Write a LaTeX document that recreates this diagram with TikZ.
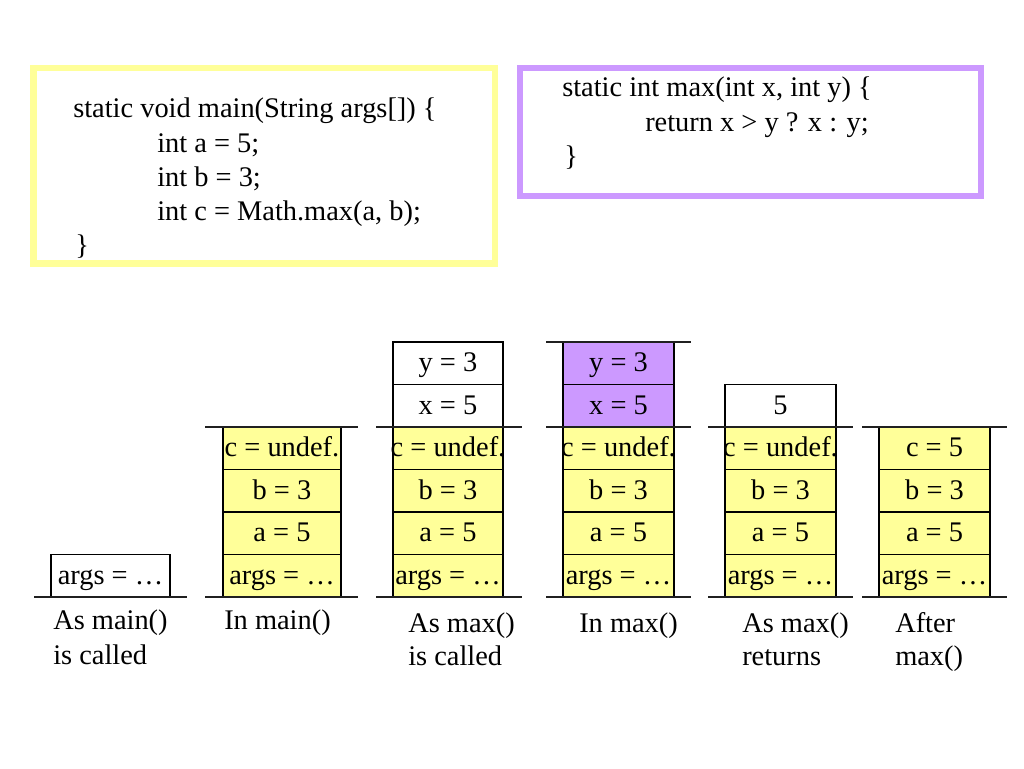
\documentclass[tikz,border=0pt]{standalone}
\usepackage{fontspec}
\setmainfont{Liberation Serif}
\definecolor{codeyellow}{HTML}{FFFF99}
\definecolor{codepurple}{HTML}{CC99FF}
\definecolor{lineclr}{HTML}{202020}
\newcommand{\wide}[1]{\makebox[0pt]{#1}}
\begin{document}
\begin{tikzpicture}[x=0.75pt,y=-0.75pt,
  font=\fontsize{21.3}{25}\selectfont,
  codebox/.style={line width=4.9pt},
  txt/.style={anchor=base west,inner sep=0pt},
  cellbox/.style={draw=black,line width=0.8pt,minimum height=31.875pt,inner sep=0pt,text height=1.25em,text depth=0pt},
  ycell/.style={cellbox,fill=codeyellow},
  pcell/.style={cellbox,fill=codepurple},
  wcell/.style={cellbox,fill=white},
  w1/.style={minimum width=89.25pt},
  w2/.style={minimum width=88.5pt},
  w3/.style={minimum width=82.5pt},
  w4/.style={minimum width=83.25pt},
  floor/.style={draw=lineclr,line width=0.9pt}]
\useasboundingbox (0,0) rectangle (1024,768);
\fill[white] (0,0) rectangle (1024,768);
% code boxes
\draw[codebox,draw=codeyellow] (33.5,68) rectangle (495,263.5);
\draw[codebox,draw=codepurple] (520,68) rectangle (981,196);
% main code
\node[txt] (m1) at (73,117) {static void main(String args[]) \{};
\node[txt] (m2) at (157,152) {int a = 5;};
\node[txt] (m3) at (157,186) {int b = 3;};
\node[txt] (m4) at (157,220) {int c = Math.max(a, b);};
\node[txt] (m5) at (75,254) {\}};
% max code
\node[txt] (x1) at (562,96) {static int max(int x, int y) \{};
\node[txt] (x2) at (645,131) {return x > y ? x : y;};
\node[txt] (x3) at (564,165) {\}};
% stack 1
\node[wcell,w1] (s1a) at (110.5,575.75) {args = …};
\coordinate (f1l) at (34,597); \coordinate (f1r) at (187,597);
\draw[floor] (f1l) -- (f1r);
\node[txt] (l1a) at (53,629) {As main()};
\node[txt] (l1b) at (53,664) {is called};
% stack 2
\node[ycell,w2] (s2a) at (282,575.75) {args = …};
\node[ycell,w2] (s2b) at (282,533.25) {a = 5};
\node[ycell,w2] (s2c) at (282,490.75) {b = 3};
\node[ycell,w2] (s2d) at (282,448.25) {\wide{c = undef.}};
\coordinate (f2l) at (205,597); \coordinate (f2r) at (358,597);
\coordinate (t2l) at (205,427); \coordinate (t2r) at (358,427);
\draw[floor] (f2l) -- (f2r);
\draw[floor] (t2l) -- (t2r);
\node[txt] (l2a) at (224,629) {In main()};
% stack 3
\node[ycell,w3] (s3a) at (448,575.75) {\wide{args = …}};
\node[ycell,w3] (s3b) at (448,533.25) {a = 5};
\node[ycell,w3] (s3c) at (448,490.75) {b = 3};
\node[ycell,w3] (s3d) at (448,448.25) {\wide{c = undef.}};
\node[wcell,w3] (s3e) at (448,405.75) {x = 5};
\node[wcell,w3] (s3f) at (448,363.25) {y = 3};
\coordinate (f3l) at (376,597); \coordinate (f3r) at (522,597);
\coordinate (t3l) at (376,427); \coordinate (t3r) at (522,427);
\draw[floor] (f3l) -- (f3r);
\draw[floor] (t3l) -- (t3r);
\node[txt] (l3a) at (408,632) {As max()};
\node[txt] (l3b) at (408,665) {is called};
% stack 4
\node[ycell,w4] (s4a) at (618.5,575.75) {\wide{args = …}};
\node[ycell,w4] (s4b) at (618.5,533.25) {a = 5};
\node[ycell,w4] (s4c) at (618.5,490.75) {b = 3};
\node[ycell,w4] (s4d) at (618.5,448.25) {\wide{c = undef.}};
\node[pcell,w4] (s4e) at (618.5,405.75) {x = 5};
\node[pcell,w4] (s4f) at (618.5,363.25) {y = 3};
\coordinate (f4l) at (546,597); \coordinate (f4r) at (691,597);
\coordinate (t4l) at (546,427); \coordinate (t4r) at (691,427);
\coordinate (u4l) at (546,342); \coordinate (u4r) at (691,342);
\draw[floor] (f4l) -- (f4r);
\draw[floor] (t4l) -- (t4r);
\draw[floor] (u4l) -- (u4r);
\node[txt] (l4a) at (579,632) {In max()};
% stack 5
\node[ycell,w4] (s5a) at (780.5,575.75) {\wide{args = …}};
\node[ycell,w4] (s5b) at (780.5,533.25) {a = 5};
\node[ycell,w4] (s5c) at (780.5,490.75) {b = 3};
\node[ycell,w4] (s5d) at (780.5,448.25) {\wide{c = undef.}};
\node[wcell,w4] (s5e) at (780.5,405.75) {5};
\coordinate (f5l) at (708,597); \coordinate (f5r) at (853,597);
\coordinate (t5l) at (708,427); \coordinate (t5r) at (853,427);
\draw[floor] (f5l) -- (f5r);
\draw[floor] (t5l) -- (t5r);
\node[txt] (l5a) at (742,632) {As max()};
\node[txt] (l5b) at (742,665) {returns};
% stack 6
\node[ycell,w4] (s6a) at (934.5,575.75) {\wide{args = …}};
\node[ycell,w4] (s6b) at (934.5,533.25) {a = 5};
\node[ycell,w4] (s6c) at (934.5,490.75) {b = 3};
\node[ycell,w4] (s6d) at (934.5,448.25) {c = 5};
\coordinate (f6l) at (862,597); \coordinate (f6r) at (1007,597);
\coordinate (t6l) at (862,427); \coordinate (t6r) at (1007,427);
\draw[floor] (f6l) -- (f6r);
\draw[floor] (t6l) -- (t6r);
\node[txt] (l6a) at (895,632) {After};
\node[txt] (l6b) at (895,665) {max()};
\end{tikzpicture}
\end{document}
